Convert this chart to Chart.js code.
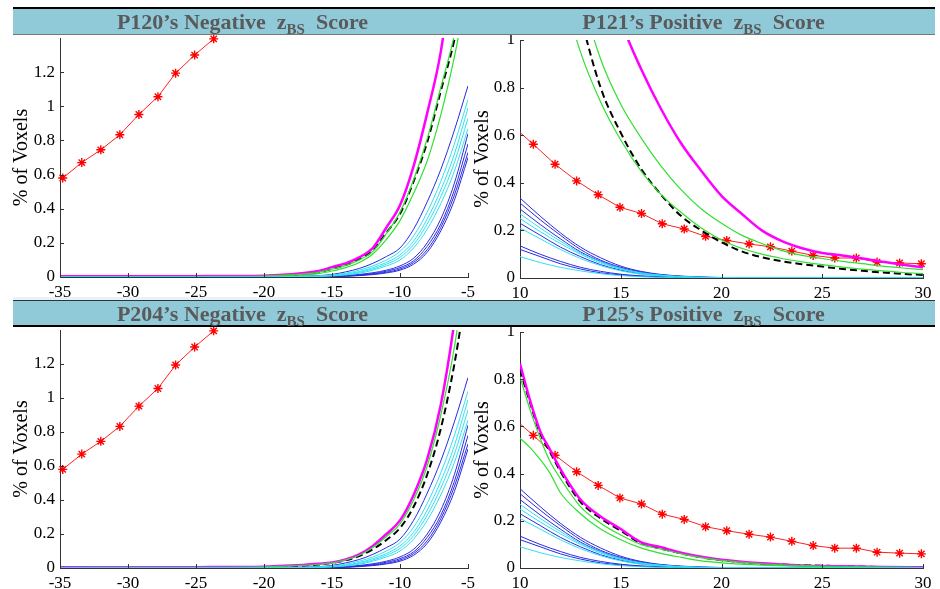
<!DOCTYPE html>
<html>
<head>
<meta charset="utf-8">
<script src="https://cdn.jsdelivr.net/npm/chart.js@4.4.0/dist/chart.umd.min.js"></script>
<style>
  body { margin: 0; background: #fff; width: 940px; height: 589px; overflow: hidden; position: relative;
         font-family: "Liberation Serif", "Times New Roman", serif; }
  canvas { position: absolute; }
  .bar { position: absolute; background: #90cad8; color: #5a5a5a; font-weight: bold; font-size: 22px;
         text-align: center; z-index: 2; box-sizing: border-box; white-space: pre; }
  .bar sub { font-size: 15px; vertical-align: -5px; line-height: 0; }
  .topbar { top: 7px; height: 28px; line-height: 26px; border-top: 2px solid #000; border-bottom: 1px solid #777; }
  .botbar { top: 300px; height: 27px; line-height: 25px; border-top: 1px solid #333; border-bottom: 2px solid #000; }
  .strip { position: absolute; left: 13px; width: 459px; top: 297px; height: 3px; background: #e6f3f7; z-index: 1; }
</style>
</head>
<body>
<div class="bar topbar" style="left:13px;width:459px">P120’s Negative  z<sub>BS</sub>  Score</div>
<div class="bar topbar" style="left:472px;width:463px">P121’s Positive  z<sub>BS</sub>  Score</div>
<div class="bar botbar" style="left:13px;width:459px">P204’s Negative  z<sub>BS</sub>  Score</div>
<div class="bar botbar" style="left:472px;width:463px">P125’s Positive  z<sub>BS</sub>  Score</div>
<div class="strip"></div>

<canvas id="p120" width="490" height="289" style="left:0;top:18px"></canvas>
<canvas id="p121" width="470" height="288" style="left:470px;top:20px"></canvas>
<canvas id="p204" width="490" height="288" style="left:0;top:310px"></canvas>
<canvas id="p125" width="470" height="286" style="left:470px;top:312px"></canvas>

<script>
// tick labels
const NEG_X_TICKS = [-35, -30, -25, -20, -15, -10, -5];
const NEG_Y_TICKS = [0, 0.2, 0.4, 0.6, 0.8, 1, 1.2];
const POS_X_TICKS = [10, 15, 20, 25, 30];
const POS_Y_TICKS = [0, 0.2, 0.4, 0.6, 0.8, 1];

// red reference curve (asterisks)
const RED_NEG_X = [-34.8, -33.4, -32.0, -30.6, -29.2, -27.8, -26.5, -25.1, -23.7];
const RED_NEG_Y = [0.58, 0.67, 0.745, 0.833, 0.952, 1.056, 1.194, 1.30, 1.395];
const RED_POS_X = [10, 10.66, 11.74, 12.81, 13.88, 14.96, 16.03, 17.06, 18.15, 19.21, 20.26, 21.37, 22.43, 23.49, 24.55, 25.62, 26.69, 27.72, 28.84, 29.92];
const RED_POS_Y = [0.611, 0.562, 0.478, 0.408, 0.350, 0.297, 0.271, 0.228, 0.206, 0.175, 0.158, 0.143, 0.131, 0.113, 0.095, 0.084, 0.084, 0.067, 0.063, 0.060];

// negative side
const NEG_X = [-35, -25, -20, -18, -16, -15, -14, -13, -12, -11, -10, -9, -8, -7, -6, -5];
const P120_MAGENTA = [0.004, 0.005, 0.008, 0.016, 0.035, 0.058, 0.08, 0.115, 0.17, 0.29, 0.42, 0.65, 0.96, 1.32, 1.9, 2.6];
const P120_BLACK = [0.002, 0.003, 0.006, 0.012, 0.028, 0.048, 0.07, 0.105, 0.155, 0.26, 0.37, 0.56, 0.79, 1.09, 1.39, 1.8];
const P120_GREEN = [
  [0.002, 0.003, 0.006, 0.012, 0.027, 0.046, 0.068, 0.10, 0.15, 0.255, 0.38, 0.57, 0.81, 1.11, 1.42, 1.85],
  [0.001, 0.002, 0.004, 0.009, 0.02, 0.035, 0.055, 0.085, 0.135, 0.22, 0.33, 0.49, 0.68, 0.95, 1.29, 1.7]
];
const P204_MAGENTA = [0.004, 0.005, 0.008, 0.014, 0.025, 0.032, 0.05, 0.08, 0.13, 0.20, 0.28, 0.43, 0.64, 0.96, 1.45, 2.1];
const P204_BLACK = [0.002, 0.003, 0.005, 0.01, 0.02, 0.03, 0.045, 0.07, 0.11, 0.165, 0.235, 0.36, 0.55, 0.82, 1.20, 1.7];
const P204_GREEN = [
  [0.003, 0.004, 0.007, 0.012, 0.022, 0.03, 0.048, 0.075, 0.12, 0.185, 0.26, 0.40, 0.60, 0.90, 1.30, 1.85]
];
const NEG_BLUE = [
  [0, 0, 0.001, 0.003, 0.008, 0.015, 0.03, 0.05, 0.08, 0.12, 0.17, 0.28, 0.44, 0.63, 0.86, 1.12],
  [0, 0, 0, 0, 0.002, 0.004, 0.008, 0.015, 0.025, 0.04, 0.065, 0.11, 0.20, 0.34, 0.55, 0.84],
  [0, 0, 0, 0, 0.001, 0.003, 0.006, 0.012, 0.02, 0.034, 0.055, 0.095, 0.18, 0.31, 0.51, 0.78],
  [0, 0, 0, 0, 0.001, 0.002, 0.005, 0.01, 0.017, 0.028, 0.047, 0.085, 0.16, 0.29, 0.48, 0.73],
  [0, 0, 0, 0, 0, 0.002, 0.004, 0.008, 0.014, 0.024, 0.04, 0.075, 0.145, 0.27, 0.45, 0.70]
];
const NEG_CYAN = [
  [0, 0, 0, 0.002, 0.006, 0.012, 0.022, 0.04, 0.065, 0.10, 0.15, 0.24, 0.38, 0.56, 0.78, 1.04],
  [0, 0, 0, 0.002, 0.005, 0.01, 0.018, 0.032, 0.055, 0.085, 0.13, 0.21, 0.34, 0.51, 0.72, 0.99],
  [0, 0, 0, 0.001, 0.004, 0.008, 0.015, 0.027, 0.047, 0.075, 0.115, 0.19, 0.31, 0.47, 0.67, 0.93],
  [0, 0, 0, 0.001, 0.003, 0.006, 0.012, 0.022, 0.04, 0.065, 0.10, 0.17, 0.28, 0.43, 0.62, 0.87]
];

// positive side
const POS_X = [10, 11, 12, 13, 14, 15, 16, 17, 18, 19, 20, 21, 22, 23, 24, 25, 26, 27, 28, 29, 30];
const P121_MAGENTA = [3.5, 2.8, 2.2, 1.7, 1.35, 1.08, 0.88, 0.71, 0.565, 0.45, 0.345, 0.27, 0.2, 0.155, 0.125, 0.105, 0.095, 0.082, 0.068, 0.056, 0.045];
const P121_BLACK = [2.6, 1.95, 1.45, 1.1, 0.80, 0.61, 0.46, 0.35, 0.26, 0.20, 0.15, 0.112, 0.087, 0.07, 0.058, 0.048, 0.038, 0.03, 0.023, 0.017, 0.013];
const P121_GREEN = [
  [2.3, 1.7, 1.25, 0.95, 0.74, 0.58, 0.45, 0.35, 0.275, 0.21, 0.16, 0.125, 0.1, 0.082, 0.068, 0.056, 0.046, 0.037, 0.03, 0.023, 0.018],
  [2.9, 2.1, 1.55, 1.2, 0.92, 0.73, 0.59, 0.47, 0.37, 0.29, 0.23, 0.18, 0.145, 0.115, 0.095, 0.082, 0.07, 0.06, 0.05, 0.042, 0.035]
];
const P125_X = [10, 10.5, 11, 11.5, 12, 13, 14, 15, 16, 17, 18, 19, 20, 22, 24, 26, 28, 30];
const P125_MAGENTA = [0.865, 0.71, 0.58, 0.50, 0.42, 0.29, 0.218, 0.165, 0.11, 0.088, 0.065, 0.048, 0.035, 0.02, 0.011, 0.007, 0.004, 0.003];
const P125_BLACK = [0.84, 0.70, 0.57, 0.49, 0.41, 0.28, 0.21, 0.158, 0.105, 0.082, 0.062, 0.045, 0.033, 0.018, 0.012, 0.008, 0.004, 0.003];
const P125_GREEN = [
  [0.81, 0.67, 0.55, 0.45, 0.38, 0.26, 0.19, 0.14, 0.10, 0.08, 0.06, 0.044, 0.032, 0.018, 0.01, 0.006, 0.004, 0.002],
  [0.55, 0.51, 0.46, 0.40, 0.32, 0.23, 0.165, 0.12, 0.085, 0.062, 0.045, 0.03, 0.022, 0.012, 0.007, 0.004, 0.003, 0.002]
];
const POS_BLUE = [
  [0.336, 0.26, 0.19, 0.13, 0.085, 0.05, 0.028, 0.015, 0.008, 0.004, 0.002, 0.001, 0, 0, 0, 0, 0, 0, 0, 0, 0],
  [0.315, 0.245, 0.18, 0.12, 0.075, 0.045, 0.025, 0.013, 0.007, 0.003, 0.002, 0.001, 0, 0, 0, 0, 0, 0, 0, 0, 0],
  [0.29, 0.225, 0.165, 0.11, 0.07, 0.04, 0.022, 0.012, 0.006, 0.003, 0.001, 0, 0, 0, 0, 0, 0, 0, 0, 0, 0],
  [0.23, 0.18, 0.13, 0.09, 0.056, 0.033, 0.018, 0.01, 0.005, 0.002, 0.001, 0, 0, 0, 0, 0, 0, 0, 0, 0, 0],
  [0.135, 0.1, 0.07, 0.045, 0.028, 0.016, 0.009, 0.005, 0.002, 0.001, 0, 0, 0, 0, 0, 0, 0, 0, 0, 0, 0],
  [0.12, 0.09, 0.06, 0.038, 0.022, 0.013, 0.007, 0.004, 0.002, 0.001, 0, 0, 0, 0, 0, 0, 0, 0, 0, 0, 0]
];
const POS_CYAN = [
  [0.27, 0.21, 0.155, 0.105, 0.068, 0.04, 0.022, 0.012, 0.006, 0.003, 0.001, 0, 0, 0, 0, 0, 0, 0, 0, 0, 0],
  [0.25, 0.195, 0.145, 0.1, 0.063, 0.037, 0.02, 0.011, 0.005, 0.002, 0.001, 0, 0, 0, 0, 0, 0, 0, 0, 0, 0],
  [0.21, 0.165, 0.12, 0.082, 0.052, 0.03, 0.016, 0.009, 0.004, 0.002, 0.001, 0, 0, 0, 0, 0, 0, 0, 0, 0, 0],
  [0.09, 0.065, 0.045, 0.03, 0.018, 0.01, 0.005, 0.003, 0.001, 0, 0, 0, 0, 0, 0, 0, 0, 0, 0, 0, 0]
];

const FONT = "'Liberation Serif', 'Times New Roman', serif";

function line(xs, ys, color, width, dash) {
  return {
    data: xs.map((x, i) => ({ x: x, y: ys[i] })),
    borderColor: color,
    borderWidth: width,
    borderDash: dash || [],
    pointRadius: 0,
    cubicInterpolationMode: 'monotone',
    fill: false
  };
}

function redLine(xs, ys, skipFirst) {
  const d = line(xs, ys, '#ff2020', 1);
  d.pointStyle = 'star';
  d.pointRadius = xs.map((x, i) => (skipFirst && i === 0) ? 0 : 4.5);
  d.pointBorderColor = '#ff0000';
  d.pointBorderWidth = 1.4;
  d.cubicInterpolationMode = 'default';
  d.clip = 6;
  return d;
}

// small inward tick marks like the original plot
const inwardTicks = {
  id: 'inwardTicks',
  afterDraw(chart) {
    const { ctx, chartArea, scales } = chart;
    ctx.save();
    ctx.strokeStyle = '#333';
    ctx.lineWidth = 1;
    ctx.beginPath();
    scales.x.ticks.forEach(t => {
      const px = Math.round(scales.x.getPixelForValue(t.value)) + 0.5;
      ctx.moveTo(px, chartArea.bottom);
      ctx.lineTo(px, chartArea.bottom - 4);
    });
    scales.y.ticks.forEach(t => {
      const py = Math.round(scales.y.getPixelForValue(t.value)) + 0.5;
      ctx.moveTo(chartArea.left, py);
      ctx.lineTo(chartArea.left + 4, py);
    });
    ctx.stroke();
    ctx.restore();
  }
};

function makePanel(id, p) {
  new Chart(document.getElementById(id), {
    type: 'line',
    data: { datasets: p.datasets },
    options: {
      responsive: false,
      animation: false,
      devicePixelRatio: 1,
      layout: { padding: { top: 20, right: p.padRight, left: 0, bottom: 6 } },
      plugins: { legend: { display: false }, tooltip: { enabled: false } },
      scales: {
        x: {
          type: 'linear', min: p.xMin, max: p.xMax,
          afterBuildTicks: s => { s.ticks = p.xTicks.map(v => ({ value: v })); },
          afterFit: s => { s.height = 24; },
          ticks: { color: '#000', padding: 5, font: { family: FONT, size: 17 }, callback: v => String(v) },
          grid: { drawOnChartArea: false, drawTicks: false },
          border: { color: '#333', width: 1 }
        },
        y: {
          type: 'linear', min: 0, max: p.yMax,
          afterBuildTicks: s => { s.ticks = p.yTicks.map(v => ({ value: v })); },
          afterFit: s => { s.width = p.yWidth; },
          ticks: { color: '#000', padding: 5, font: { family: FONT, size: 17 }, callback: v => String(v) },
          grid: { drawOnChartArea: false, drawTicks: false },
          border: { color: '#333', width: 1 },
          title: { display: true, text: '% of Voxels', color: '#000',
                   font: { family: FONT, size: 20 }, padding: { top: p.titlePad, bottom: 0 } }
        }
      }
    },
    plugins: [inwardTicks]
  });
}

function negSets(magenta, black, greens) {
  const sets = [];
  NEG_CYAN.forEach(ys => sets.push(line(NEG_X, ys, '#30e0f0', 1)));
  NEG_BLUE.forEach(ys => sets.push(line(NEG_X, ys, '#2a2ae0', 1)));
  greens.forEach(ys => sets.push(line(NEG_X, ys, '#30e030', 1.2)));
  sets.push(line(NEG_X, magenta, '#ff00ff', 2.5));
  sets.push(line(NEG_X, black, '#000000', 2, [7, 4]));
  sets.push(redLine(RED_NEG_X, RED_NEG_Y, false));
  return sets;
}

function posSets(xs, magenta, black, greens) {
  const sets = [];
  POS_CYAN.forEach(ys => sets.push(line(POS_X, ys, '#30e0f0', 1)));
  POS_BLUE.forEach(ys => sets.push(line(POS_X, ys, '#2a2ae0', 1)));
  greens.forEach(ys => sets.push(line(xs, ys, '#30e030', 1.2)));
  sets.push(line(xs, magenta, '#ff00ff', 2.5));
  sets.push(line(xs, black, '#000000', 2, [7, 4]));
  sets.push(redLine(RED_POS_X, RED_POS_Y, true));
  return sets;
}

const negAxes = { xMin: -35, xMax: -5, xTicks: NEG_X_TICKS, yMax: 1.4, yTicks: NEG_Y_TICKS, yWidth: 60, titlePad: 10, padRight: 22 };
const posAxes = { xMin: 10, xMax: 30, xTicks: POS_X_TICKS, yMax: 1, yTicks: POS_Y_TICKS, yWidth: 50, titlePad: 1, padRight: 17 };

makePanel('p120', Object.assign({ datasets: negSets(P120_MAGENTA, P120_BLACK, P120_GREEN) }, negAxes));
makePanel('p121', Object.assign({ datasets: posSets(POS_X, P121_MAGENTA, P121_BLACK, P121_GREEN) }, posAxes));
makePanel('p204', Object.assign({ datasets: negSets(P204_MAGENTA, P204_BLACK, P204_GREEN) }, negAxes));
makePanel('p125', Object.assign({ datasets: posSets(P125_X, P125_MAGENTA, P125_BLACK, P125_GREEN) }, posAxes));
</script>
</body>
</html>
